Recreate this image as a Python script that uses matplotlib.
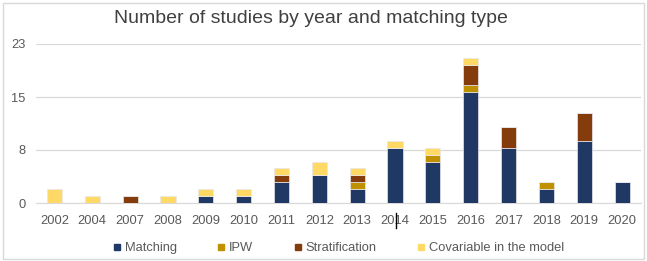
import matplotlib
matplotlib.use("Agg")
import matplotlib.pyplot as plt
from matplotlib.lines import Line2D
from matplotlib.patches import Rectangle
import numpy as np

years = ["2002", "2004", "2007", "2008", "2009", "2010", "2011", "2012",
         "2013", "2014", "2015", "2016", "2017", "2018", "2019", "2020"]
matching = [0, 0, 0, 0, 1, 1, 3, 4, 2, 8, 6, 16, 8, 2, 9, 3]
ipw = [0, 0, 0, 0, 0, 0, 0, 0, 1, 0, 1, 1, 0, 1, 0, 0]
stratification = [0, 0, 1, 0, 0, 0, 1, 0, 1, 0, 0, 3, 3, 0, 4, 0]
covariable = [2, 1, 0, 1, 1, 1, 1, 2, 1, 1, 1, 1, 0, 0, 0, 0]
series_names = ["Matching", "IPW", "Stratification", "Covariable in the model"]
colors = ["#1f3864", "#bf9000", "#843c0c", "#ffd966"]
ytick_labels = ["0", "8", "15", "23"]

plt.rcParams['font.family'] = ['Liberation Sans', 'DejaVu Sans']

fig = plt.figure(figsize=(6.47, 2.61), dpi=100)
ax = fig.add_axes([35.5/647, 1-203/261, (641-35.5)/647, (203-44)/261])

x = np.arange(len(years))
bottom = np.zeros(len(years))
for vals, name, c in zip([matching, ipw, stratification, covariable], series_names, colors):
    v = np.array(vals, dtype=float)
    ax.bar(x, v, width=0.4, bottom=bottom, color=c, label=name,
           edgecolor="#e8e8ee", linewidth=0.5, zorder=3)
    bottom += v

ax.set_xlim(-0.5, len(years) - 0.5)
ax.set_ylim(0, 23)
ax.set_yticks(np.linspace(0, 23, 4))
ax.set_yticklabels(ytick_labels)
ax.set_xticks(x)
ax.set_xticklabels(years)
ax.tick_params(axis='both', length=0, labelsize=9.3, colors="#595959")
ax.tick_params(axis='y', pad=7)
ax.tick_params(axis='x', pad=9)
for s in ["top", "right", "left"]:
    ax.spines[s].set_visible(False)
ax.spines["bottom"].set_color("#d9d9d9")
ax.grid(axis='y', color="#d9d9d9", linewidth=0.9, zorder=0)
ax.set_axisbelow(True)

fig.text(311/647, 1-22.7/261, "Number of studies by year and matching type",
         ha='center', va='baseline', fontsize=14, color="#404040")

handles = [Line2D([], [], marker='s', linestyle='none', markersize=4.5,
                  markerfacecolor=c, markeredgecolor=c) for c in colors]
fig.legend(handles, series_names, loc='center', bbox_to_anchor=(339/647, 1-248/261),
           ncol=4, frameon=False, fontsize=9.3, handlelength=0.5, handletextpad=0.35,
           columnspacing=3.2, labelcolor="#595959", borderpad=0)

# cursor artifact
fig.add_artist(Line2D([396/647, 396/647], [1-213/261, 1-228/261], color="black", linewidth=1))

# border
fig.add_artist(Rectangle((3/647, 2/261), 641/647, 256/261, fill=False,
                         edgecolor="#d9d9d9", linewidth=1, transform=fig.transFigure))

fig.savefig("out.png", dpi=100)
